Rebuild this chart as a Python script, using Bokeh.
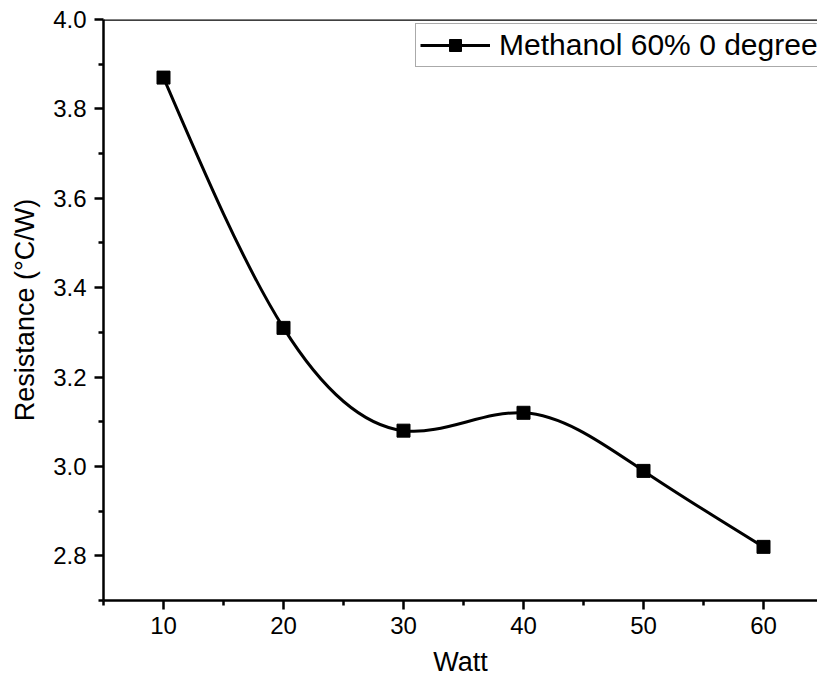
import numpy as np
from bokeh.plotting import figure
from bokeh.models import Range1d, FixedTicker, PrintfTickFormatter, Span, Legend, LegendItem, ColumnDataSource
from bokeh.embed import file_html
from bokeh.resources import INLINE

# ---- data ----
watt = [10, 20, 30, 40, 50, 60]
resistance = [3.87, 3.31, 3.08, 3.12, 2.99, 2.82]
series_label = "Methanol 60% 0 degree"
x_ticks = [10, 20, 30, 40, 50, 60]
x_minor = [5, 15, 25, 35, 45, 55, 65]
y_ticks = [2.8, 3.0, 3.2, 3.4, 3.6, 3.8, 4.0]
y_minor = [2.7, 2.9, 3.1, 3.3, 3.5, 3.7, 3.9]

# natural cubic spline connector rendered as exact Bezier segments
xs = np.array(watt, dtype=float)
ys = np.array(resistance, dtype=float)
n = len(xs)
h = np.diff(xs)
A = np.zeros((n, n)); b = np.zeros(n)
A[0, 0] = 1; A[-1, -1] = 1
for i in range(1, n - 1):
    A[i, i - 1] = h[i - 1]
    A[i, i] = 2 * (h[i - 1] + h[i])
    A[i, i + 1] = h[i]
    b[i] = 6 * ((ys[i + 1] - ys[i]) / h[i] - (ys[i] - ys[i - 1]) / h[i - 1])
M = np.linalg.solve(A, b)
slopes = np.zeros(n)
for i in range(n - 1):
    slopes[i] = (ys[i + 1] - ys[i]) / h[i] - h[i] * (2 * M[i] + M[i + 1]) / 6
slopes[-1] = (ys[-1] - ys[-2]) / h[-1] + h[-1] * (M[-2] + 2 * M[-1]) / 6
bez = ColumnDataSource(dict(
    x0=xs[:-1], y0=ys[:-1], x1=xs[1:], y1=ys[1:],
    cx0=xs[:-1] + h / 3, cy0=ys[:-1] + slopes[:-1] * h / 3,
    cx1=xs[1:] - h / 3, cy1=ys[1:] - slopes[1:] * h / 3,
))

FONT = "Liberation Sans"

p = figure(width=817, height=690, output_backend="svg", toolbar_location=None,
           x_range=Range1d(5, 64.5), y_range=Range1d(2.7, 4.0),
           min_border_left=103, min_border_right=0, min_border_top=19, min_border_bottom=90)
p.outline_line_color = None
p.grid.visible = False
p.background_fill_color = "white"
p.border_fill_color = "white"

r_line = p.bezier(x0="x0", y0="y0", x1="x1", y1="y1", cx0="cx0", cy0="cy0", cx1="cx1", cy1="cy1",
                  source=bez, line_color="black", line_width=3)
r_pts = p.scatter(watt, resistance, marker="square", size=13, fill_color="black", line_color="black")

top = Span(location=4.0, dimension="width", line_color="black", line_width=2.5)
p.add_layout(top)

for ax in (p.xaxis[0], p.yaxis[0]):
    ax.axis_line_width = 2.5
    ax.axis_line_color = "black"
    ax.major_tick_line_width = 2.5
    ax.minor_tick_line_width = 2.5
    ax.major_tick_in = 0
    ax.minor_tick_in = 0
    ax.major_tick_out = 9
    ax.minor_tick_out = 5
    ax.major_label_text_font = FONT
    ax.major_label_text_font_size = "24px"
    ax.major_label_text_color = "black"
    ax.axis_label_text_font = FONT
    ax.axis_label_text_font_size = "27px"
    ax.axis_label_text_font_style = "normal"
    ax.axis_label_text_color = "black"

p.xaxis.ticker = FixedTicker(ticks=x_ticks, minor_ticks=x_minor)
p.yaxis.ticker = FixedTicker(ticks=y_ticks, minor_ticks=y_minor)
p.yaxis.formatter = PrintfTickFormatter(format="%.1f")
p.xaxis.axis_label = "Watt"
p.yaxis.axis_label = "Resistance (°C/W)"
p.xaxis.major_label_standoff = 7
p.yaxis.major_label_standoff = 8
p.xaxis.axis_label_standoff = 10
p.yaxis.axis_label_standoff = 10

legend = Legend(items=[LegendItem(label=series_label, renderers=[r_line, r_pts])],
                location=(312, 533), orientation="vertical")
legend.label_text_font = FONT
legend.label_text_font_size = "30px"
legend.label_text_color = "black"
legend.glyph_width = 70
legend.glyph_height = 30
legend.label_standoff = 9
legend.padding = 4
legend.margin = 0
legend.spacing = 0
legend.border_line_color = "#555555"
legend.border_line_width = 1
legend.background_fill_color = "white"
legend.background_fill_alpha = 1
p.add_layout(legend)

open("out.html", "w").write(file_html(p, INLINE))
